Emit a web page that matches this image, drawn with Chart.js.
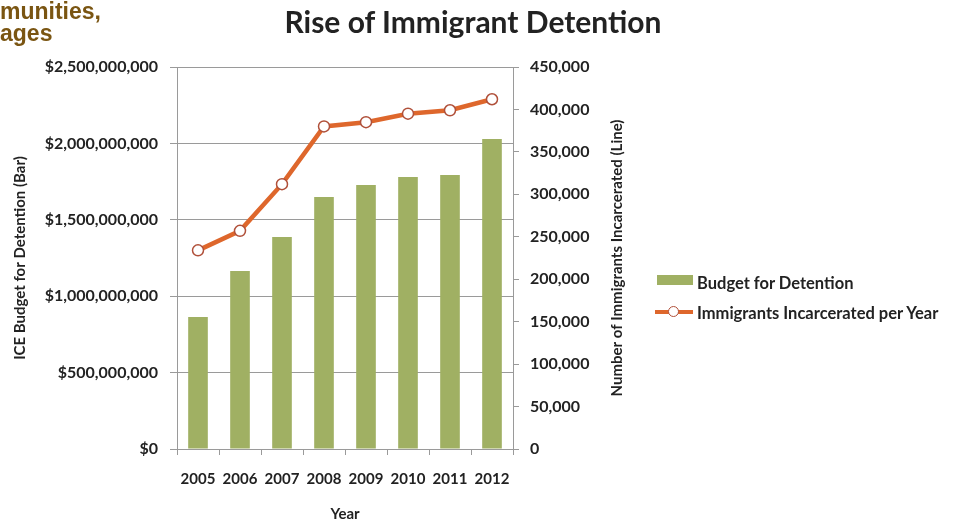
<!DOCTYPE html>
<html lang="en">

<head>
    <meta charset="UTF-8">
    <title>Rise of Immigrant Detention</title>
    <script src="https://cdn.jsdelivr.net/npm/chart.js"></script>
    <style>
        body { margin: 0; background: #fff; }
        .janela { position: relative; width: 958px; height: 520px; overflow: hidden; font-family: Lato, sans-serif; }
        .janela canvas { position: absolute; left: 0; top: 0; }
        .recorte { position: absolute; left: 0; top: 0; font-family: "Liberation Sans", Arial, sans-serif; font-weight: bold; font-size: 23px; line-height: 22px; color: #7a5512; }
        .titulo { position: absolute; left: 0; width: 946px; top: 3px; text-align: center; font-size: 30px; font-weight: bold; color: #222; }
        .legenda { position: absolute; left: 655px; top: 270px; font-size: 16.5px; font-weight: bold; color: #222; }
        .legenda .item { position: relative; height: 30px; line-height: 26px; padding-left: 42px; white-space: nowrap; }
        .caixa { position: absolute; left: 2px; top: 5px; width: 36px; height: 10px; }
        .traco { position: absolute; left: 0; top: 10px; width: 38px; height: 4px; }
        .bola { position: absolute; left: 13px; top: 6px; width: 9px; height: 9px; border-radius: 50%; background: #fff; border: 1.5px solid #b0503a; }
    </style>
</head>

<body>

    <div class="janela">
        <canvas id="graficoDetencao" width="958" height="520"></canvas>
        <div class="recorte">munities,<br>ages</div>
        <div class="titulo">Rise of Immigrant Detention</div>
        <div class="legenda" id="legenda"></div>
    </div>

    <script>
        // dados
        const anos = ['2005', '2006', '2007', '2008', '2009', '2010', '2011', '2012'];
        const orcamento = [864000000, 1165000000, 1387000000, 1649000000, 1728000000, 1780000000, 1793000000, 2029000000];
        const encarcerados = [234000, 257000, 312000, 380000, 385000, 395000, 399000, 412000];

        const nomeBarra = 'Budget for Detention';
        const nomeLinha = 'Immigrants Incarcerated per Year';
        const tituloEsq = 'ICE Budget for Detention (Bar)';
        const tituloDir = 'Number of Immigrants Incarcerated (Line)';

        const corBarra = '#a0b063';
        const corLinha = '#de672c';
        const corGrade = '#9a9a9a';
        const fonteTickY = { family: 'Lato', size: 16, weight: 'bold' };
        const fonteTickX = { family: 'Lato', size: 15, weight: 'bold' };
        const fonteTitulo = { family: 'Lato', size: 15, weight: 'bold' };

        // titulo do eixo direito, girado como no Excel (de baixo para cima)
        const tituloDireita = {
            id: 'tituloDireita',
            afterDraw(chart) {
                const eixo = chart.scales.y1;
                const ctx = chart.ctx;
                ctx.save();
                ctx.translate(eixo.left + 104, (eixo.top + eixo.bottom) / 2);
                ctx.rotate(-Math.PI / 2);
                ctx.font = 'bold 15px Lato';
                ctx.fillStyle = '#222';
                ctx.textAlign = 'center';
                ctx.textBaseline = 'middle';
                ctx.fillText(tituloDir, 0, 0);
                ctx.restore();
            }
        };

        const config = {
            data: {
                labels: anos,
                datasets: [
                    {
                        type: 'line',
                        label: nomeLinha,
                        data: encarcerados,
                        yAxisID: 'y1',
                        borderColor: corLinha,
                        borderWidth: 4.5,
                        pointRadius: 5.5,
                        pointBackgroundColor: '#fff',
                        pointBorderColor: '#b0503a',
                        pointBorderWidth: 1.5,
                        tension: 0,
                        order: 0
                    },
                    {
                        type: 'bar',
                        label: nomeBarra,
                        data: orcamento,
                        yAxisID: 'y',
                        backgroundColor: corBarra,
                        barPercentage: 0.55,
                        categoryPercentage: 0.85,
                        order: 1
                    }
                ]
            },
            options: {
                responsive: false,
                animation: false,
                layout: { padding: { left: 6, right: 328, top: 67, bottom: 0 } },
                plugins: {
                    legend: { display: false },
                    tooltip: { enabled: false }
                },
                scales: {
                    x: {
                        grid: { drawOnChartArea: false, color: corGrade, tickLength: 6, offset: true },
                        border: { color: corGrade },
                        ticks: { font: fonteTickX, color: '#222', padding: 15, maxRotation: 0 },
                        title: { display: true, text: 'Year', font: fonteTitulo, color: '#222', padding: { top: 0, bottom: -3 } },
                        afterFit(eixo) { eixo.height = 71; }
                    },
                    y: {
                        position: 'left',
                        min: 0,
                        max: 2500000000,
                        ticks: {
                            stepSize: 500000000,
                            font: fonteTickY,
                            color: '#222',
                            padding: 12,
                            callback: v => '$' + v.toLocaleString('en-US')
                        },
                        grid: { color: corGrade, tickLength: 7 },
                        border: { color: corGrade },
                        title: { display: true, text: tituloEsq, font: fonteTitulo, color: '#222', padding: { top: 5, bottom: 0 } },
                        afterFit(eixo) { eixo.width = 171; }
                    },
                    y1: {
                        position: 'right',
                        min: 0,
                        max: 450000,
                        ticks: {
                            stepSize: 50000,
                            font: fonteTickY,
                            color: '#222',
                            padding: 11,
                            callback: v => v.toLocaleString('en-US')
                        },
                        grid: { drawOnChartArea: false, color: corGrade, tickLength: 6 },
                        border: { color: corGrade },
                        afterFit(eixo) { eixo.width = 117; }
                    }
                }
            },
            plugins: [tituloDireita]
        };

        let myChart = new Chart(document.getElementById('graficoDetencao'), config);

        // legenda em HTML com as cores dos datasets
        document.getElementById('legenda').innerHTML =
            '<div class="item"><span class="caixa" style="background:' + corBarra + '"></span>' + nomeBarra + '</div>' +
            '<div class="item"><span class="traco" style="background:' + corLinha + '"></span><span class="bola"></span>' + nomeLinha + '</div>';
    </script>

</body>

</html>
